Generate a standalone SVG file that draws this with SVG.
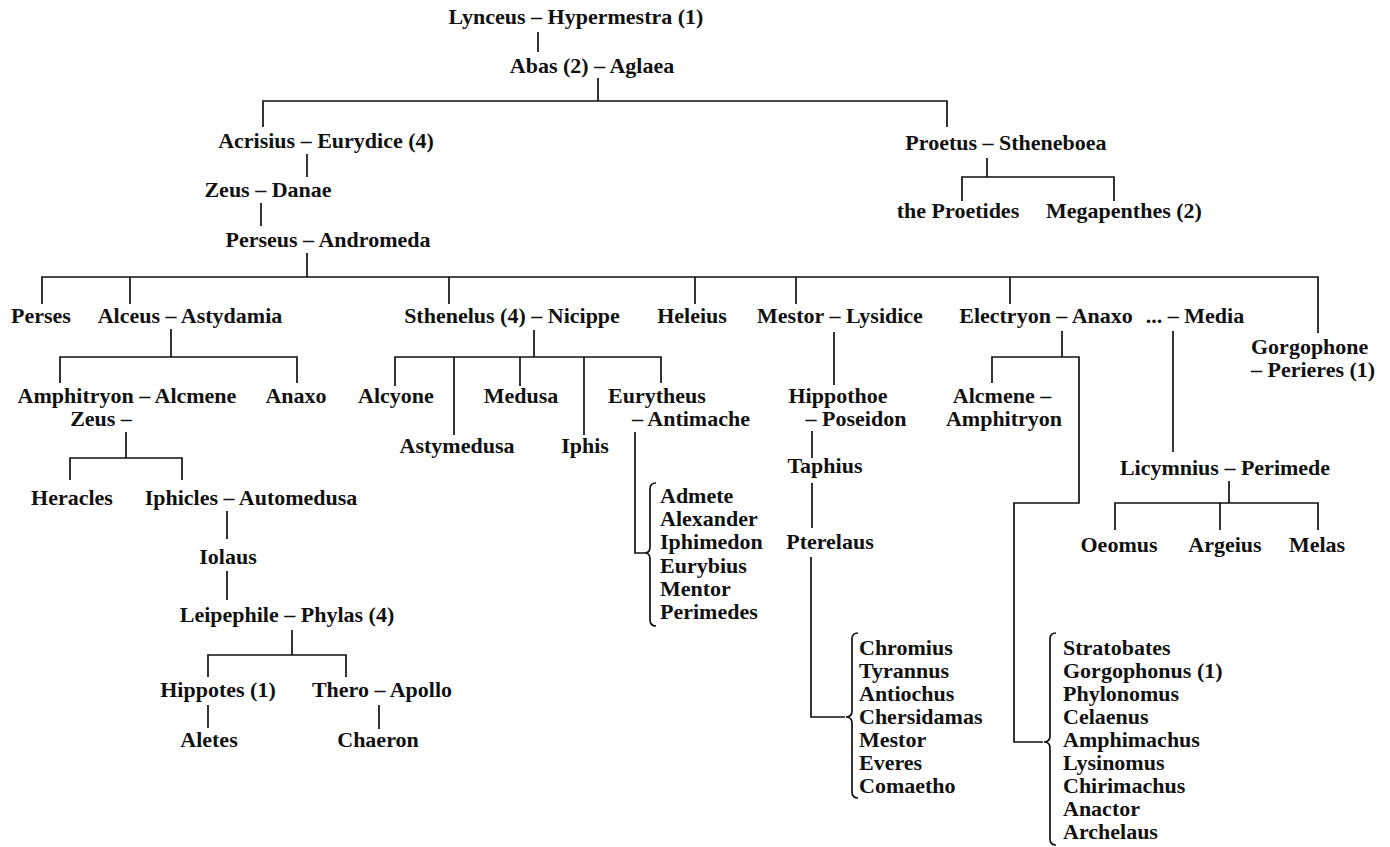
<svg xmlns="http://www.w3.org/2000/svg" width="1390" height="847" viewBox="0 0 1390 847">
<style>
.t{font-family:"Liberation Serif","DejaVu Serif",serif;font-size:22px;font-weight:bold;fill:#111;text-anchor:middle}
.s{text-anchor:start}
.c{fill:none;stroke:#111;stroke-width:1.7}
</style>
<rect width="1390" height="847" fill="#fff"/>
<g id="connectors" class="c">
<path d="M538 32V52"/>
<path d="M598 78V101M263 127V101H947V127"/>
<path d="M307 154V177"/>
<path d="M261 203V226"/>
<path d="M307 253V277M42 304V277H1318V333M130 277V304M449 277V304M695 277V304M796 277V304M1010 277V304"/>
<path d="M987 158V177M962 201V177H1114V201"/>
<path d="M171 329V357M60 383V357H297V383"/>
<path d="M126 432V458M70 480V458H182V480"/>
<path d="M227 511V539M227 571V600"/>
<path d="M292 630V655M208 677V655H346V677"/>
<path d="M208 705V728M379 705V729"/>
<path d="M534 330V357M395 386V357H661V383M454 357V435M520 357V386M584 357V435"/>
<path d="M635 432V553H645"/>
<path d="M656 483Q650 483 650 489V547Q650 553 645 553Q650 553 650 559V620Q650 626 656 626"/>
<path d="M834 332V385M812 431V458M812 483V528M811 557V717H845"/>
<path d="M858 633Q852 633 852 639V711Q852 717 846 717Q852 717 852 723V792Q852 798 858 798"/>
<path d="M1062 331V357M992 383V357H1079V503H1014V742H1043"/>
<path d="M1056 633Q1050 633 1050 639V736Q1050 742 1044 742Q1050 742 1050 748V839Q1050 845 1056 845"/>
<path d="M1173 331V452"/>
<path d="M1229 481V503M1115 530V503H1318V530M1220 503V530"/>
</g>
<g id="n-lynceus"><text class="t" x="576" y="24">Lynceus – Hypermestra (1)</text></g>
<g id="n-abas"><text class="t" x="592" y="73">Abas (2) – Aglaea</text></g>
<g id="n-acrisius"><text class="t" x="326" y="148">Acrisius – Eurydice (4)</text></g>
<g id="n-proetus"><text class="t" x="1006" y="150">Proetus – Stheneboea</text></g>
<g id="n-proetides"><text class="t" x="958" y="218">the Proetides</text></g>
<g id="n-megapenthes"><text class="t" x="1124" y="218">Megapenthes (2)</text></g>
<g id="n-zeus-danae"><text class="t" x="268" y="197">Zeus – Danae</text></g>
<g id="n-perseus"><text class="t" x="328" y="247">Perseus – Andromeda</text></g>
<g id="n-perses"><text class="t" x="41" y="323">Perses</text></g>
<g id="n-alceus"><text class="t" x="190" y="323">Alceus – Astydamia</text></g>
<g id="n-sthenelus"><text class="t" x="512" y="323">Sthenelus (4) – Nicippe</text></g>
<g id="n-heleius"><text class="t" x="692" y="323">Heleius</text></g>
<g id="n-mestor"><text class="t" x="840" y="323">Mestor – Lysidice</text></g>
<g id="n-electryon"><text class="t" x="1046" y="323">Electryon – Anaxo</text></g>
<g id="n-media"><text class="t" x="1195" y="323">... – Media</text></g>
<g id="n-gorgophone"><text class="t s" x="1251" y="354">Gorgophone</text><text class="t s" x="1251" y="377">– Perieres (1)</text></g>
<g id="n-amphitryon"><text class="t" x="127" y="403">Amphitryon – Alcmene</text><text class="t" x="101" y="426">Zeus –</text></g>
<g id="n-anaxo"><text class="t" x="296" y="403">Anaxo</text></g>
<g id="n-heracles"><text class="t" x="72" y="505">Heracles</text></g>
<g id="n-iphicles"><text class="t" x="251" y="505">Iphicles – Automedusa</text></g>
<g id="n-iolaus"><text class="t" x="228" y="564">Iolaus</text></g>
<g id="n-leipephile"><text class="t" x="287" y="622">Leipephile – Phylas (4)</text></g>
<g id="n-hippotes"><text class="t" x="218" y="697">Hippotes (1)</text></g>
<g id="n-thero"><text class="t" x="382" y="697">Thero – Apollo</text></g>
<g id="n-aletes"><text class="t" x="209" y="747">Aletes</text></g>
<g id="n-chaeron"><text class="t" x="378" y="747">Chaeron</text></g>
<g id="n-alcyone"><text class="t" x="396" y="403">Alcyone</text></g>
<g id="n-medusa"><text class="t" x="521" y="403">Medusa</text></g>
<g id="n-eurytheus"><text class="t" x="657" y="403">Eurytheus</text><text class="t" x="691" y="426">– Antimache</text></g>
<g id="n-astymedusa"><text class="t" x="457" y="453">Astymedusa</text></g>
<g id="n-iphis"><text class="t" x="585" y="453">Iphis</text></g>
<g id="n-eurytheus-children">
<text class="t s" x="660" y="503">Admete</text>
<text class="t s" x="660" y="526">Alexander</text>
<text class="t s" x="660" y="549">Iphimedon</text>
<text class="t s" x="660" y="573">Eurybius</text>
<text class="t s" x="660" y="596">Mentor</text>
<text class="t s" x="660" y="619">Perimedes</text>
</g>
<g id="n-hippothoe"><text class="t" x="838" y="403">Hippothoe</text><text class="t" x="856" y="426">– Poseidon</text></g>
<g id="n-taphius"><text class="t" x="825" y="473">Taphius</text></g>
<g id="n-pterelaus"><text class="t" x="830" y="549">Pterelaus</text></g>
<g id="n-pterelaus-children">
<text class="t s" x="859" y="655">Chromius</text>
<text class="t s" x="859" y="678">Tyrannus</text>
<text class="t s" x="859" y="701">Antiochus</text>
<text class="t s" x="859" y="724">Chersidamas</text>
<text class="t s" x="859" y="747">Mestor</text>
<text class="t s" x="859" y="770">Everes</text>
<text class="t s" x="859" y="793">Comaetho</text>
</g>
<g id="n-alcmene"><text class="t" x="1002" y="403">Alcmene –</text><text class="t" x="1004" y="426">Amphitryon</text></g>
<g id="n-electryon-children">
<text class="t s" x="1063" y="655">Stratobates</text>
<text class="t s" x="1063" y="678">Gorgophonus (1)</text>
<text class="t s" x="1063" y="701">Phylonomus</text>
<text class="t s" x="1063" y="724">Celaenus</text>
<text class="t s" x="1063" y="747">Amphimachus</text>
<text class="t s" x="1063" y="770">Lysinomus</text>
<text class="t s" x="1063" y="793">Chirimachus</text>
<text class="t s" x="1063" y="816">Anactor</text>
<text class="t s" x="1063" y="839">Archelaus</text>
</g>
<g id="n-licymnius"><text class="t" x="1225" y="475">Licymnius – Perimede</text></g>
<g id="n-oeomus"><text class="t" x="1119" y="552">Oeomus</text></g>
<g id="n-argeius"><text class="t" x="1225" y="552">Argeius</text></g>
<g id="n-melas"><text class="t" x="1317" y="552">Melas</text></g>
</svg>
